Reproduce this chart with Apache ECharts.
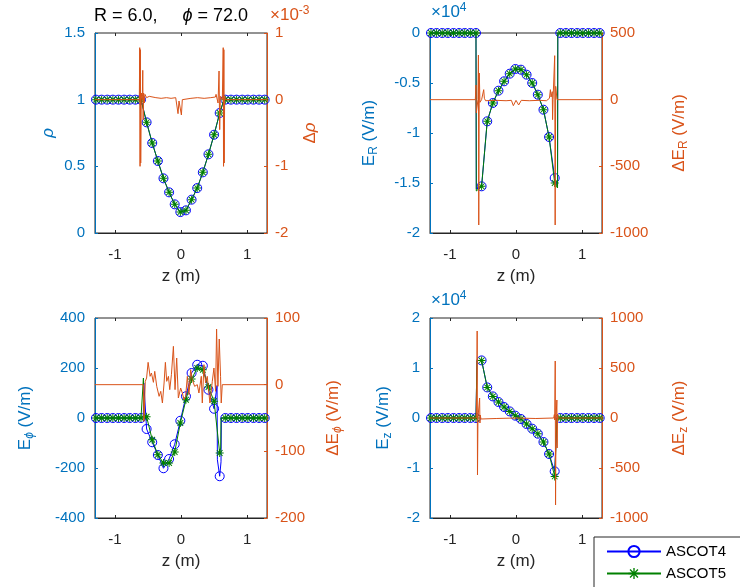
<!DOCTYPE html>
<html>
<head>
<meta charset="utf-8">
<script src="https://cdn.jsdelivr.net/npm/echarts@6/dist/echarts.min.js"></script>
<style>
  html, body { margin: 0; padding: 0; background: #fff; }
  #chart { width: 740px; height: 587px; }
</style>
</head>
<body>
<div id="chart"></div>
<script>
// marker positions along z (m), shared by both codes
const Z_MARK = [-1.285, -1.2, -1.115, -1.03, -0.945, -0.86, -0.775, -0.69, -0.605,
  -0.52, -0.435, -0.35, -0.265, -0.18, -0.095, -0.01, 0.075, 0.16, 0.245, 0.33, 0.415, 0.5, 0.585,
  0.67, 0.755, 0.84, 0.925, 1.01, 1.095, 1.18, 1.265];
const Z_TICKS = [-1, 0, 1];

// rho
const RHO4 = [1, 1, 1, 1, 1, 1, 1, 1, 1,
  0.83, 0.675, 0.54, 0.41, 0.305, 0.215, 0.157, 0.17, 0.25, 0.337, 0.455, 0.59, 0.737, 0.9,
  1, 1, 1, 1, 1, 1, 1, 1];
const RHO5 = [1, 1, 1, 1, 1, 1, 1, 1, 1,
  0.83, 0.675, 0.54, 0.41, 0.305, 0.215, 0.157, 0.17, 0.25, 0.337, 0.455, 0.59, 0.737, 0.9,
  1, 1, 1, 1, 1, 1, 1, 1];
const RHO4_EDGE = [[0.65, 1]];
const RHO5_EDGE = [[0.65, 1]];
// delta rho, x1e-3
const D_RHO = [[-1.3, 0], [-0.63, 0], [-0.624, 0.78], [-0.619, -1.0], [-0.614, 0.75], [-0.609, -0.95],
  [-0.6, 0.1], [-0.585, 0], [-0.578, 0.44], [-0.572, -0.3], [-0.565, 0.1], [-0.555, -0.05],
  [-0.545, 0.08], [-0.52, 0.03], [-0.48, 0.05], [-0.45, 0.02], [-0.38, 0.03], [-0.3, 0.02],
  [-0.22, 0.03], [-0.15, 0.02], [-0.08, 0.03], [-0.06, 0.0], [-0.045, -0.21], [-0.03, -0.02],
  [-0.015, 0.0], [0.006, -0.23], [0.02, 0.0], [0.04, 0.03], [0.15, 0.02], [0.25, 0.03],
  [0.35, 0.02], [0.45, 0.03], [0.52, 0.04], [0.53, 0.08], [0.56, -0.05], [0.575, 0.43],
  [0.585, -0.45], [0.595, 0.05], [0.61, 0.02], [0.625, 0], [0.638, 0.78], [0.643, -1.0],
  [0.648, 0.75], [0.653, -0.95], [0.66, 0.05], [0.67, 0], [1.3, 0]];

// E_R, x1e4 V/m
const ER4 = [0, 0, 0, 0, 0, 0, 0, 0, 0,
  -1.533, -0.883, -0.70, -0.577, -0.483, -0.407, -0.36, -0.367, -0.417, -0.50, -0.617, -0.767, -1.04, -1.45,
  0, 0, 0, 0, 0, 0, 0, 0];
const ER5 = [0, 0, 0, 0, 0, 0, 0, 0, 0,
  -1.533, -0.883, -0.70, -0.577, -0.483, -0.407, -0.36, -0.367, -0.417, -0.50, -0.617, -0.767, -1.04, -1.50,
  0, 0, 0, 0, 0, 0, 0, 0];
const ER4_EDGE = [[-0.6, -1.56], [0.628, -1.53], [0.632, 0]];
const ER5_EDGE = [[-0.6, -1.58], [0.628, -1.55], [0.632, 0]];
const D_ER = [[-1.3, 0], [-0.615, 0], [-0.605, 110], [-0.6, -100], [-0.575, 0], [-0.568, 335],
  [-0.563, -940], [-0.555, 200], [-0.545, -20], [-0.52, 0], [-0.5, 15], [-0.488, 75], [-0.478, 10],
  [-0.46, -8], [-0.3, -5], [-0.15, -8], [-0.07, -5], [-0.04, -45], [0.0, -5], [0.04, -40],
  [0.08, -5], [0.2, -8], [0.35, -5], [0.46, -8], [0.505, 10], [0.52, 75], [0.53, 20], [0.548, 60],
  [0.553, -150], [0.56, 0], [0.585, 330], [0.592, -940], [0.6, 100], [0.62, 0], [1.3, 0]];

// E_phi, V/m
const EPHI4 = [0, 0, 0, 0, 0, 0, 0, 0, 0,
  -44, -97, -148, -201, -164, -105, -11, 87, 180, 213, 209, 113, 37, -233,
  0, 0, 0, 0, 0, 0, 0, 0];
const EPHI5 = [0, 0, 0, 0, 0, 0, 0, 0, 0,
  5, -87, -147, -180, -180, -136, -20, 73, 156, 200, 193, 124, 67, -140,
  0, 0, 0, 0, 0, 0, 0, 0];
const EPHI4_EDGE = [[-0.57, 0], [-0.562, 140], [0.545, 130], [0.55, -167], [0.605, -175], [0.61, 0]];
const EPHI5_EDGE = [[-0.575, 0], [-0.568, 160], [-0.56, 0], [0.6, -120], [0.605, 0]];
const D_EPHI = [[-1.3, 0], [-0.57, 0], [-0.56, -55], [-0.54, 5], [-0.52, 10], [-0.497, 33.5],
  [-0.467, 12.5], [-0.447, 17.5], [-0.417, 3.5], [-0.397, 20], [-0.367, -2.5], [-0.331, -17.5],
  [-0.306, -10], [-0.281, -27.5], [-0.256, 2.5], [-0.236, 33.5], [-0.216, 5], [-0.19, 12.5],
  [-0.17, -7.5], [-0.145, 15], [-0.115, 57.5], [-0.09, -7.5], [-0.065, 40], [-0.04, -20],
  [-0.005, -5], [0.02, -12.5], [0.045, -22.5], [0.07, -17.5], [0.096, 12.5], [0.12, -15],
  [0.146, 22.5], [0.171, 7.5], [0.206, -2.5], [0.246, 0], [0.271, -12.5], [0.307, 12.5],
  [0.322, -27.5], [0.347, 30], [0.372, 2.5], [0.397, 12.5], [0.437, -27.5], [0.473, 5],
  [0.498, 25], [0.523, -10], [0.538, 83.5], [0.558, -2.5], [0.578, 68.5], [0.598, 12.5],
  [0.608, -27.5], [0.624, 0], [1.3, 0]];

// E_z, x1e4 V/m
const EZ4 = [0, 0, 0, 0, 0, 0, 0, 0, 0,
  1.152, 0.612, 0.432, 0.32, 0.22, 0.132, 0.046, -0.02, -0.12, -0.214, -0.314, -0.48, -0.72, -1.068,
  0, 0, 0, 0, 0, 0, 0, 0];
const EZ5 = [0, 0, 0, 0, 0, 0, 0, 0, 0,
  1.152, 0.612, 0.432, 0.32, 0.22, 0.132, 0.046, -0.02, -0.12, -0.214, -0.314, -0.48, -0.72, -1.168,
  0, 0, 0, 0, 0, 0, 0, 0];
const EZ4_EDGE = [[-0.59, 1.15], [0.615, -1.1], [0.62, 0]];
const EZ5_EDGE = [[-0.59, 1.15], [0.615, -1.18], [0.62, 0]];
const D_EZ = [[-1.3, 0], [-0.6, 0], [-0.592, 320], [-0.587, 870], [-0.582, -570], [-0.575, 0],
  [-0.55, 200], [-0.545, -50], [-0.54, 30], [-0.53, -10], [-0.52, 0], [-0.3, -5], [0, 0],
  [0.3, -5], [0.57, 0], [0.58, 35], [0.585, -20], [0.593, 570], [0.598, -870], [0.605, 0],
  [0.618, 180], [0.622, -300], [0.628, 40], [0.635, 0], [1.3, 0]];

const FONT = '"Liberation Sans", Arial, sans-serif';
const AX_BLUE = '#0072BD';
const AX_ORANGE = '#D95319';
const DARK = '#262626';
const STAR = 'path://M-1,-0.12L1,-0.12L1,0.12L-1,0.12Z M-0.12,-1L0.12,-1L0.12,1L-0.12,1Z ' +
  'M-0.622,-0.792L0.792,0.622L0.622,0.792L-0.792,-0.622Z M-0.792,0.622L0.622,-0.792L0.792,-0.622L-0.622,0.792Z';

const GRIDS = [
  { left: 95, top: 33, width: 172, height: 200 },
  { left: 430, top: 33, width: 172, height: 200 },
  { left: 95, top: 318, width: 172, height: 200 },
  { left: 430, top: 318, width: 172, height: 200 },
];

const nameRich = {
  n: { fontSize: 17, fontFamily: FONT, lineHeight: 22 },
  i: { fontSize: 17, fontFamily: FONT, fontStyle: 'italic', lineHeight: 22 },
  s: { fontSize: 12, fontFamily: FONT, lineHeight: 12, verticalAlign: 'bottom' },
  si: { fontSize: 12, fontFamily: FONT, fontStyle: 'italic', lineHeight: 12, verticalAlign: 'bottom' },
};

const PANELS = [
  {
    a4: RHO4, a5: RHO5, e4: RHO4_EDGE, e5: RHO5_EDGE, diff: D_RHO,
    left: { min: 0, max: 1.5, interval: 0.5, name: '{i|ρ}', gap: 36 },
    right: { min: -2, max: 1, interval: 1, name: '{n|Δ}{i|ρ}', gap: 32 },
  },
  {
    a4: ER4, a5: ER5, e4: ER4_EDGE, e5: ER5_EDGE, diff: D_ER,
    left: { min: -2, max: 0, interval: 0.5, name: '{n|E}{s|R}{n| (V/m)}', gap: 50 },
    right: { min: -1000, max: 500, interval: 500, name: '{n|ΔE}{s|R}{n| (V/m)}', gap: 66 },
  },
  {
    a4: EPHI4, a5: EPHI5, e4: EPHI4_EDGE, e5: EPHI5_EDGE, diff: D_EPHI,
    left: { min: -400, max: 400, interval: 200, name: '{n|E}{si|ϕ}{n| (V/m)}', gap: 59 },
    right: { min: -200, max: 100, interval: 100, name: '{n|ΔE}{si|ϕ}{n| (V/m)}', gap: 55 },
  },
  {
    a4: EZ4, a5: EZ5, e4: EZ4_EDGE, e5: EZ5_EDGE, diff: D_EZ,
    left: { min: -2, max: 2, interval: 1, name: '{n|E}{s|z}{n| (V/m)}', gap: 36 },
    right: { min: -1000, max: 1000, interval: 500, name: '{n|ΔE}{s|z}{n| (V/m)}', gap: 66 },
  },
];

function lineData(vals, edge) {
  const pts = Z_MARK.map((z, i) => ({ value: [z, vals[i]] }));
  edge.forEach(p => pts.push({ value: p, symbol: 'none' }));
  return pts.sort((a, b) => a.value[0] - b.value[0]);
}

function yAxis(i, cfg, side, color) {
  return {
    type: 'value', gridIndex: i, position: side,
    min: cfg.min, max: cfg.max, interval: cfg.interval,
    axisLine: { show: true, onZero: false, lineStyle: { color, width: 1 } },
    axisTick: { show: true, inside: true, length: 3, lineStyle: { color } },
    axisLabel: { color, fontSize: 15, fontFamily: FONT, margin: side === 'left' ? 10 : 8, formatter: v => String(v) },
    splitLine: { show: false },
    name: cfg.name, nameLocation: 'middle', nameGap: cfg.gap, nameRotate: 90,
    nameTextStyle: { color, rich: nameRich },
  };
}

const xAxes = [], yAxes = [], series = [];
PANELS.forEach((p, i) => {
  xAxes.push({
    type: 'value', gridIndex: i, position: 'bottom', min: -1.3, max: 1.3,
    axisLine: { onZero: false, lineStyle: { color: DARK } },
    axisTick: { inside: true, length: 3, customValues: Z_TICKS, lineStyle: { color: DARK } },
    axisLabel: { customValues: Z_TICKS, color: DARK, fontSize: 15, fontFamily: FONT, margin: 14 },
    splitLine: { show: false },
    name: 'z (m)', nameLocation: 'middle', nameGap: 35,
    nameTextStyle: { color: DARK, fontSize: 17, fontFamily: FONT },
  });
  xAxes.push({
    type: 'value', gridIndex: i, position: 'top', min: -1.3, max: 1.3,
    axisLine: { show: false, onZero: false },
    axisTick: { inside: true, length: 3, customValues: Z_TICKS, lineStyle: { color: DARK } },
    axisLabel: { show: false },
    splitLine: { show: false },
  });
  yAxes.push(yAxis(i, p.left, 'left', AX_BLUE));
  yAxes.push(yAxis(i, p.right, 'right', AX_ORANGE));

  series.push({
    name: 'ASCOT4', type: 'line', xAxisIndex: 2 * i, yAxisIndex: 2 * i,
    data: lineData(p.a4, p.e4),
    symbol: 'circle', symbolSize: 9, showAllSymbol: true,
    lineStyle: { color: '#0000ff', width: 1 },
    itemStyle: { color: 'rgba(0,0,0,0)', borderColor: '#0000ff', borderWidth: 1 },
    z: 2,
  });
  series.push({
    name: 'ASCOT5', type: 'line', xAxisIndex: 2 * i, yAxisIndex: 2 * i,
    data: lineData(p.a5, p.e5),
    symbol: STAR, symbolSize: 8, showAllSymbol: true,
    lineStyle: { color: '#008000', width: 1 },
    itemStyle: { color: '#008000' },
    z: 3,
  });
  series.push({
    name: 'diff', type: 'line', xAxisIndex: 2 * i + 1, yAxisIndex: 2 * i + 1,
    data: p.diff, symbol: 'none',
    lineStyle: { color: AX_ORANGE, width: 1 },
    z: 4,
  });
});

const supRich = (color) => ({
  b: { fontSize: 17, fontFamily: FONT, fill: color, lineHeight: 21 },
  s: { fontSize: 12, fontFamily: FONT, fill: color, lineHeight: 12, verticalAlign: 'top' },
});

const chart = echarts.init(document.getElementById('chart'));
chart.setOption({
  animation: false,
  backgroundColor: '#fff',
  grid: GRIDS.map(g => ({ ...g, show: true, borderColor: DARK, borderWidth: 1, containLabel: false })),
  xAxis: xAxes,
  yAxis: yAxes,
  series,
  legend: {
    data: ['ASCOT4', 'ASCOT5'],
    orient: 'vertical', left: 594, top: 537, height: 90,
    itemWidth: 54, itemHeight: 14, itemGap: 7,
    padding: [7, 40, 30, 12],
    backgroundColor: '#fff', borderColor: DARK, borderWidth: 1,
    textStyle: { color: '#000', fontSize: 15, fontFamily: FONT },
  },
  graphic: [
    {
      type: 'text', left: 94, top: 7,
      style: {
        text: '{n|R = 6.0,     }{i|ϕ}{n| = 72.0}',
        rich: {
          n: { fontSize: 18, fontFamily: FONT, fill: '#000' },
          i: { fontSize: 18, fontFamily: FONT, fontStyle: 'italic', fill: '#000' },
        },
      },
    },
    { type: 'text', left: 270, top: 5, style: { text: '{b|×10}{s|-3}', rich: supRich(AX_ORANGE) } },
    { type: 'text', left: 431, top: 2, style: { text: '{b|×10}{s|4}', rich: supRich(AX_BLUE) } },
    { type: 'text', left: 431, top: 290, style: { text: '{b|×10}{s|4}', rich: supRich(AX_BLUE) } },
  ],
});
</script>
</body>
</html>
